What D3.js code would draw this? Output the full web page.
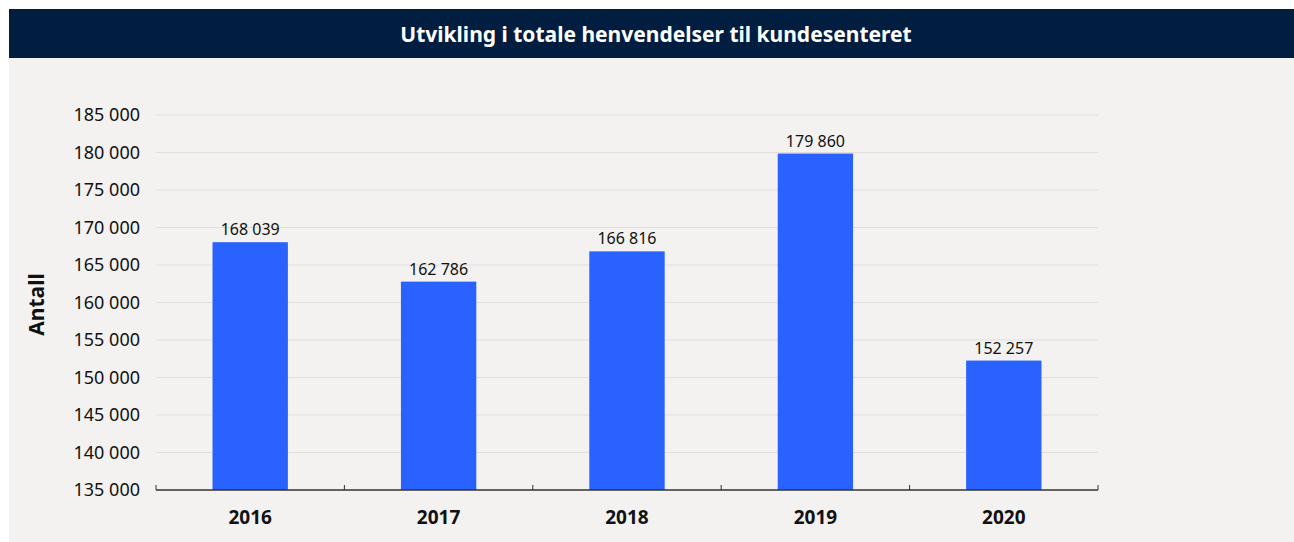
<!DOCTYPE html>
<html>
<head>
<meta charset="utf-8">
<script src="https://cdn.jsdelivr.net/npm/d3@7"></script>
<style>
  body { margin: 0; background: #ffffff; }
  svg { display: block; font-family: "Noto Sans", sans-serif; }
</style>
</head>
<body>
<script>
// Data
const years = ["2016", "2017", "2018", "2019", "2020"];
const henvendelser = [168039, 162786, 166816, 179860, 152257];
const yTicks = [135000, 140000, 145000, 150000, 155000, 160000, 165000, 170000, 175000, 180000, 185000];

const title = "Utvikling i totale henvendelser til kundesenteret";
const yLabel = "Antall";

const W = 1294, H = 542;
const margin = { top: 115, bottom: 52, left: 156, right: 196 };
const width = W - margin.left - margin.right;
const height = H - margin.top - margin.bottom;

const svg = d3.select("body").append("svg")
  .attr("width", W)
  .attr("height", H);

// panel background + title bar
svg.append("rect").attr("x", 9).attr("y", 9).attr("width", W - 9).attr("height", 533).attr("fill", "#f3f2f0");
svg.append("rect").attr("x", 9).attr("y", 9).attr("width", W - 9).attr("height", 49).attr("fill", "#011e41");
svg.append("text")
  .attr("x", 656).attr("y", 34)
  .attr("text-anchor", "middle").attr("dominant-baseline", "central")
  .attr("fill", "#ffffff").attr("font-weight", "bold").attr("font-size", 21)
  .text(title);

const g = svg.append("g").attr("transform", `translate(${margin.left},${margin.top})`);

// number format with space as thousands separator
const fmt = d3.formatLocale({ decimal: ",", thousands: " ", grouping: [3], currency: ["", " kr"] }).format(",d");

const xscale = d3.scaleBand().domain(years).range([0, width]).paddingInner(0.6).paddingOuter(0.3);
const yscale = d3.scaleLinear().domain([135000, 185000]).range([height, 0]);

// gridlines
g.append("g").selectAll("line")
  .data(yTicks.slice(1))
  .join("line")
  .attr("x1", 0).attr("x2", width)
  .attr("y1", (d) => yscale(d)).attr("y2", (d) => yscale(d))
  .attr("stroke", "#e0dfdd").attr("stroke-width", 1);

// y axis (labels only)
const yaxis = d3.axisLeft(yscale).tickValues(yTicks).tickFormat(fmt).tickSize(0).tickPadding(16);
const g_yaxis = g.append("g").call(yaxis);
g_yaxis.select(".domain").remove();
g_yaxis.selectAll("text").attr("font-size", 18).attr("fill", "#111").attr("font-family", "Noto Sans, sans-serif");

// bars
g.selectAll("rect.bar")
  .data(years.map((y, i) => ({ year: y, value: henvendelser[i] })))
  .join("rect")
  .attr("class", "bar")
  .attr("x", (d) => xscale(d.year))
  .attr("width", xscale.bandwidth())
  .attr("y", (d) => yscale(d.value))
  .attr("height", (d) => height - yscale(d.value))
  .attr("fill", "#2962ff");

// value labels
g.selectAll("text.val")
  .data(years.map((y, i) => ({ year: y, value: henvendelser[i] })))
  .join("text")
  .attr("class", "val")
  .attr("x", (d) => xscale(d.year) + xscale.bandwidth() / 2)
  .attr("y", (d) => yscale(d.value) - 7)
  .attr("text-anchor", "middle")
  .attr("font-size", 16).attr("fill", "#111")
  .text((d) => fmt(d.value));

// x axis: line with inward ticks at band boundaries
const step = width / years.length;
const xg = g.append("g").attr("transform", `translate(0,${height})`);
xg.append("line").attr("x1", 0).attr("x2", width).attr("stroke", "#333").attr("stroke-width", 1.5);
xg.selectAll("line.tick")
  .data(d3.range(years.length + 1))
  .join("line")
  .attr("class", "tick")
  .attr("x1", (i) => i * step).attr("x2", (i) => i * step)
  .attr("y1", 0).attr("y2", -5)
  .attr("stroke", "#333");
xg.selectAll("text")
  .data(years)
  .join("text")
  .attr("x", (d) => xscale(d) + xscale.bandwidth() / 2)
  .attr("y", 27)
  .attr("dominant-baseline", "central")
  .attr("text-anchor", "middle")
  .attr("font-weight", "bold").attr("font-size", 19).attr("fill", "#111")
  .text((d) => d);

// y label
svg.append("text")
  .attr("transform", `translate(36,${margin.top + height / 2 + 2}) rotate(-90)`)
  .attr("text-anchor", "middle").attr("dominant-baseline", "central")
  .attr("font-weight", "bold").attr("font-size", 21).attr("fill", "#111")
  .text(yLabel);
</script>
</body>
</html>
